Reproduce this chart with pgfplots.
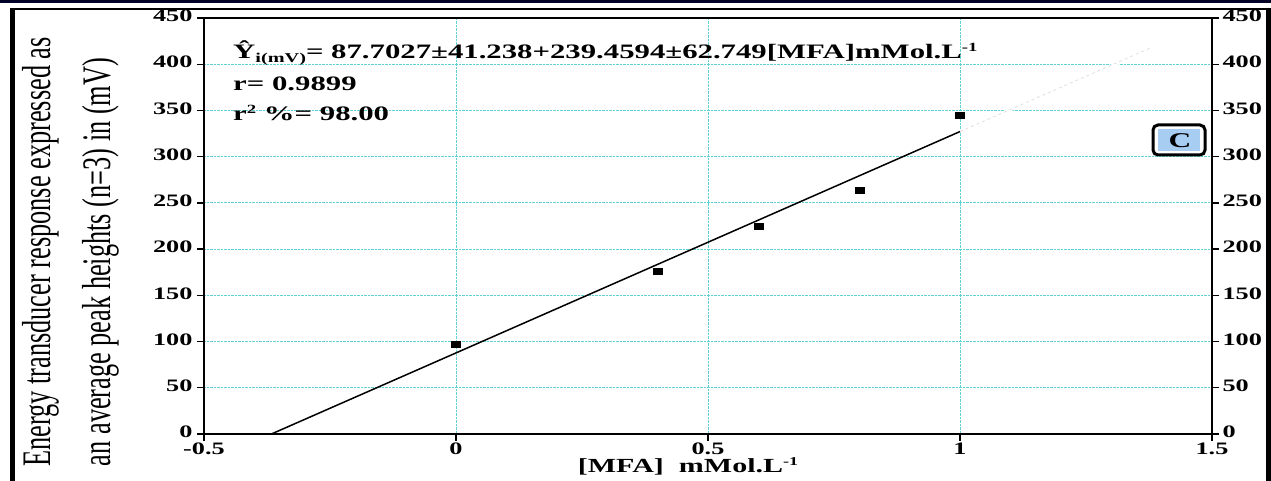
\documentclass[border=0pt]{standalone}
\usepackage{pgfplots}
\pgfplotsset{compat=1.18}
\usepackage{fontspec}
\usepackage{graphicx}
\setmainfont{Liberation Serif}[FakeStretch=1.5]
\newfontfamily\ylabfont{Liberation Serif}[FakeStretch=0.65]
\definecolor{gridc}{RGB}{95,210,212}
\definecolor{cfill}{RGB}{168,205,242}
\begin{document}
\begin{tikzpicture}[x=1pt,y=1pt]
\useasboundingbox (0,0) rectangle (1271,481);
\fill[white] (0,0) rectangle (1271,481);
% frame
\draw[line width=3pt,black!85!blue] (0,479.5) -- (1271,479.5);
\draw[line width=2pt,black] (10,471.5) -- (1271,471.5);
\draw[line width=5pt,black] (12.5,0) -- (12.5,472.5);
\draw[line width=5pt,black] (1268.5,0) -- (1268.5,472.5);
\begin{axis}[
  at={(204pt,47pt)}, anchor=south west,
  scale only axis, width=1008pt, height=416pt,
  xmin=-0.5, xmax=1.5, ymin=0, ymax=450,
  xtick={-0.5,0,0.5,1,1.5}, ytick={0,50,...,450},
  xtick pos=bottom, ytick pos=left,
  grid=major,
  major grid style={densely dotted, gridc, line width=1pt},
  axis line style={line width=1.8pt, black},
  tick align=outside, major tick length=7pt,
  tick style={black, line width=1.3pt},
  /pgf/number format/assume math mode=true,
  ticklabel style={font=\fontsize{17.5}{17.5}\selectfont\bfseries},
  xticklabel style={yshift=2pt},
  yticklabel style={xshift=-1pt, yshift=2pt},
  clip=false,
]
\addplot[white, line width=3pt] coordinates {(1.0,327.16) (1.44,431.07)};
\addplot[black!12, line width=0.8pt, dashed] coordinates {(1.0,327.16) (1.38,418.1)};
\addplot[black, line width=1.5pt] coordinates {(-0.36625,0) (1.0,327.16)};
\addplot[only marks, mark=square*, mark size=3pt, mark options={xscale=1.5, black}] coordinates {
(0,97) (0.4,176) (0.6,225) (0.8,264) (1.0,345)};
\end{axis}
\begin{axis}[
  at={(204pt,47pt)}, anchor=south west,
  scale only axis, width=1008pt, height=416pt,
  xmin=-0.5, xmax=1.5, ymin=0, ymax=450,
  ytick={0,50,...,450},
  axis x line=none, axis y line*=right,
  ytick pos=right, yticklabel pos=right,
  axis line style={line width=1.8pt, black},
  tick align=outside, major tick length=7pt,
  tick style={black, line width=1.3pt},
  /pgf/number format/assume math mode=true,
  ticklabel style={font=\fontsize{17.5}{17.5}\selectfont\bfseries},
  yticklabel style={xshift=0pt, yshift=2pt},
]
\addplot[draw=none] coordinates {(0,0)};
\end{axis}
% equation text
\node[anchor=base west, inner sep=0pt, font=\fontsize{20.5}{21}\selectfont\bfseries] at (233,422)
 {Ŷ\raisebox{-4pt}{\fontsize{13.5}{13.5}\selectfont i(mV)}= 87.7027±41.238+239.4594±62.749[MFA]mMol.L\raisebox{7pt}{\fontsize{12.5}{12.5}\selectfont -1}};
\node[anchor=base west, inner sep=0pt, font=\fontsize{20.5}{21}\selectfont\bfseries] at (233,390) {r= 0.9899};
\node[anchor=base west, inner sep=0pt, font=\fontsize{20.5}{21}\selectfont\bfseries] at (233,360)
 {r\raisebox{7pt}{\fontsize{12.5}{12.5}\selectfont 2} \%= 98.00};
% C box
\draw[line width=3pt, rounded corners=5pt, fill=white] (1153,326) rectangle (1205,356);
\fill[cfill] (1158,330) rectangle (1200,352);
\node[font=\fontsize{21}{21}\selectfont\bfseries] at (1180,340) {C};
% axis labels
\node[anchor=base, inner sep=0pt, font=\fontsize{20}{20}\selectfont\bfseries] at (688,8)
 {[MFA]\ \ mMol.L\raisebox{7pt}{\fontsize{12}{12}\selectfont -1}};
\node[rotate=90, anchor=base, inner sep=0pt, font=\ylabfont\fontsize{40.5}{41}\selectfont] at (50,229)
 {Energy transducer response expressed as};
\node[rotate=90, anchor=base, inner sep=0pt, font=\ylabfont\fontsize{40.5}{41}\selectfont] at (110,219)
 {an average peak heights (n=3) in (mV)};
\end{tikzpicture}
\end{document}
